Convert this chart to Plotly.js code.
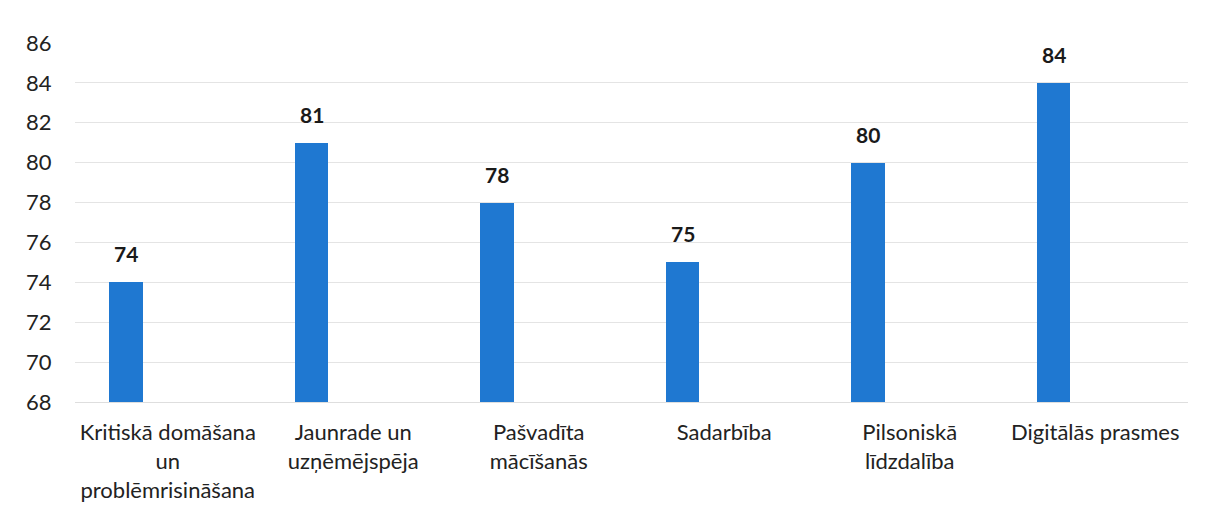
<!DOCTYPE html>
<html>
<head>
<meta charset="utf-8">
<script src="https://cdn.plot.ly/plotly-3.0.1.min.js"></script>
<style>html,body{margin:0;padding:0;background:#fff;}#chart{width:1205px;height:515px;}</style>
</head>
<body>
<div id="chart"></div>
<script>
const categories = [
  "Kritiskā domāšana<br>un<br>problēmrisināšana",
  "Jaunrade un<br>uzņēmējspēja",
  "Pašvadīta<br>mācīšanās",
  "Sadarbība",
  "Pilsoniskā<br>līdzdalība",
  "Digitālās prasmes"
];
const values = [74, 81, 78, 75, 80, 84];
const yTicks = [68, 70, 72, 74, 76, 78, 80, 82, 84, 86];
const yBase = 68;

const barOffset = -0.315;
const barWidth = 0.18;
const catPx = (1205 - 75 - 17) / categories.length;
const labelShift = (barOffset + barWidth / 2) * catPx;

const trace = {
  type: 'bar',
  x: categories,
  y: values.map(v => v - yBase),
  base: yBase,
  offset: barOffset,
  width: barWidth,
  marker: {color: '#1F78D1'},
  hoverinfo: 'x+y'
};

const annotations = categories.map((c, i) => ({
  x: c, y: values[i], xref: 'x', yref: 'y',
  text: '<b>' + values[i] + '</b>',
  showarrow: false, yanchor: 'bottom', xanchor: 'center',
  xshift: labelShift, yshift: 14,
  font: {family: 'Lato, sans-serif', size: 21, color: '#1a1a1a'}
}));

const layout = {
  width: 1205, height: 515,
  margin: {l: 75, r: 17, t: 43, b: 113},
  paper_bgcolor: '#fff', plot_bgcolor: '#fff',
  showlegend: false,
  bargap: 0,
  font: {family: 'Lato, sans-serif', size: 22, color: '#222'},
  xaxis: {
    type: 'category',
    showgrid: false, zeroline: false, showline: true, linecolor: '#dedede', linewidth: 1,
    tickfont: {size: 22, color: '#222'},
    ticks: 'outside', ticklen: 11, tickcolor: 'rgba(0,0,0,0)'
  },
  yaxis: {
    range: [68, 86],
    tickvals: yTicks,
    ticktext: yTicks.map(String),
    showgrid: true, gridcolor: '#e4e4e4', gridwidth: 1,
    zeroline: false, showline: false,
    ticks: 'outside', ticklen: 18, tickcolor: 'rgba(0,0,0,0)',
    tickfont: {size: 22, color: '#222'}
  },
  annotations: annotations
};

Plotly.newPlot('chart', [trace], layout, {staticPlot: true});
</script>
</body>
</html>
